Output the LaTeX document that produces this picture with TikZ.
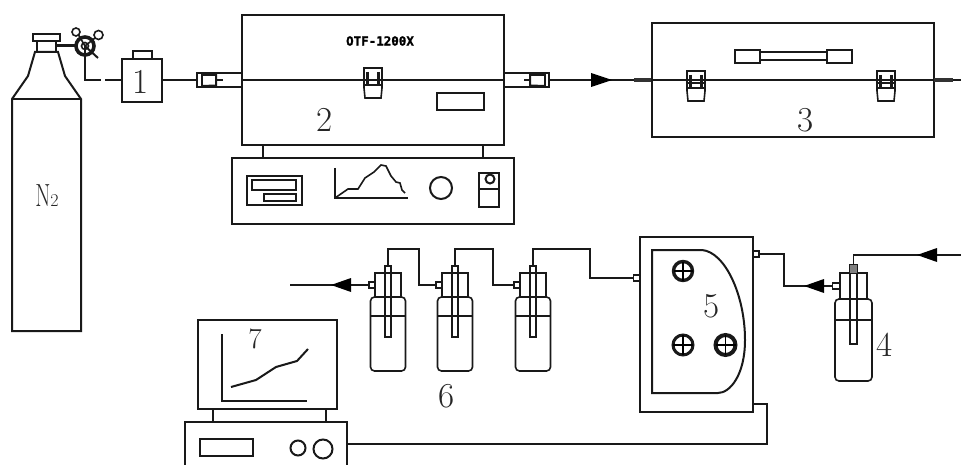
\documentclass[tikz,border=0pt]{standalone}
\usepackage{fontspec}
\newfontfamily\otffont[FakeBold=1.6]{DejaVu Sans Mono Bold}
\usetikzlibrary{arrows.meta}
\tikzset{
 ln/.style={line width=2pt,black!90,line join=miter},
 thn/.style={line width=1.6pt,black!90},
 lbl/.style={inner sep=0pt,font=\fontsize{35}{35}\selectfont,text=black!85},
}
\newcommand{\clasp}[2]{%
 \begin{scope}[shift={(#1,#2)}]
  \draw[thn] (0,0) rectangle (18,12);
  \draw[thn] (0,12) -- (0,20) -- (1,30) -- (17,30) -- (18,20) -- (18,12);
  \draw[line width=2.6pt,black!90] (3.5,4) -- (3.5,16) (14.5,4) -- (14.5,16);
  \draw[thn] (0,17) -- (18,17);
 \end{scope}}
\newcommand{\bottle}[1]{%
 \begin{scope}[shift={(#1,0)}]
  \draw[thn,rounded corners=4pt] (-17.5,297) rectangle (17.5,371);
  \draw[thn] (-13,297) -- (-13,273) -- (13,273) -- (13,297);
  \draw[thn] (-17.5,316) -- (17.5,316);
  \draw[thn] (-3,266) rectangle (3,337);
  \draw[thn,fill=white] (-19,282) rectangle (-13,288);
 \end{scope}}
\newcommand{\knob}[4]{%
 \draw[line width=#4pt,black!90] (#1,#2) circle (#3);
 \draw[line width=1.2pt] (#1-#3,#2) -- (#1+#3,#2) (#1,#2-#3) -- (#1,#2+#3);}
\begin{document}
\begin{tikzpicture}[x=1pt,y=-1pt]
\useasboundingbox (0,0) rectangle (961,465);
% cylinder
\draw[ln] (12,331) -- (12,99) -- (28,76) -- (35,52) -- (58,52) -- (65,76) -- (81,99) -- (81,331) -- cycle;
\draw[ln] (12,99) -- (81,99);
\draw[ln] (33,34) rectangle (60,41);
\draw[ln] (37,41) -- (37,52) (56,41) -- (56,52);
\node[inner sep=0pt,text=black!85,anchor=base] (gas) at (47,207) {\scalebox{0.68}[1]{\fontsize{32}{32}\selectfont N}\fontsize{18}{18}\selectfont 2};
% regulator
\coordinate (reg) at (85,46);
\draw[line width=3pt,black!90] (57,46) -- (76,46);
\draw[line width=3.6pt,black!90] (reg) circle (9);
\draw[thn] (reg) circle (3.5);
\draw[thn] (76,32) circle (4);
\draw[thn] (98.5,35) circle (4.5);
\draw[thn] (78,34) -- (reg) -- (95,38);
\draw[ln] (reg) -- (98,58);
\draw[ln] (reg) -- (85,80) -- (101,80);
% box 1
\node[draw,line width=2pt,black!90,minimum width=40pt,minimum height=43pt,inner sep=0pt] (one) at (142,80.5) {};
\node[lbl] at (141,82) {1};
\draw[ln] (105,80) -- (one.west |- 0,80);
\draw[ln] (133,59) -- (133,51) -- (152,51) -- (152,59);
\draw[ln] (162,80) -- (197,80);
% left connector
\draw[ln] (242,73) -- (197,73) -- (197,87) -- (242,87);
\draw[thn] (202,73) -- (202,87);
\draw[ln] (202,75) -- (216,75) -- (216,85.5) -- (202,86);
\draw[thn] (216,80) -- (223,80);
% furnace
\draw[ln] (242,15) rectangle (504,145);
\draw[ln] (242,80) -- (504,80);
\clasp{364}{68}
\node[inner sep=0pt,font=\otffont\fontsize{12.5}{12.5}\selectfont] (model) at (380,41) {OTF-1200X};
\draw[ln] (437,93) rectangle (484,110);
\node[lbl] at (325,120) {2};
\draw[ln] (263,145) -- (263,158) (483,145) -- (483,158);
\draw[ln] (232,158) rectangle (514,224);
\draw[ln] (247,176) rectangle (302,205);
\draw[ln] (252,180) rectangle (296,190);
\draw[ln] (264,194) rectangle (296,201);
\draw[thn] (335,168) -- (335,198) -- (408,198);
\draw[thn] (335,198) -- (348,189) -- (358,189) -- (365,178) -- (374,172) -- (381,165) -- (386,166) -- (391,176) -- (396,182) -- (400,183) -- (402,190) -- (405,193);
\draw[ln] (441,188) circle (11);
\draw[ln] (479,173) rectangle (499,207);
\draw[ln] (479,189) -- (499,189);
\draw[ln] (490,179) circle (4.5);
% right connector
\draw[ln] (504,73) -- (549,73) -- (549,87) -- (504,87);
\draw[thn] (545,73) -- (545,87);
\draw[ln] (545,75) -- (530,75) -- (530,85.5) -- (545,86);
\draw[thn] (530,80) -- (524,80);
\draw[ln] (549,80) -- (652,80);
\fill[black] (591,73) -- (612,80) -- (591,87) -- cycle;
\draw[line width=3.6pt,black!80] (634,80) -- (652,80);
% box 3
\draw[ln] (652,23) rectangle (934,137);
\draw[ln] (652,80) -- (961,80);
\draw[line width=3.6pt,black!80] (934,80) -- (953,80);
\clasp{687}{71}
\clasp{877}{71}
\draw[ln] (735,50) rectangle (760,63);
\draw[ln] (827,50) rectangle (852,63);
\draw[ln] (760,52.5) rectangle (827,60);
\node[lbl] at (806,120) {3};
% bottles
\bottle{388}
\bottle{455}
\bottle{533}
\draw[thn] (388,266) -- (388,249) -- (419,249) -- (419,285) -- (436,285);
\draw[thn] (455,266) -- (455,249) -- (493,249) -- (493,285) -- (514,285);
\draw[thn] (533,266) -- (533,249) -- (590,249) -- (590,278) -- (633,278);
\draw[thn] (290,285) -- (369,285);
\fill[black] (351,278) -- (331,285) -- (351,292) -- cycle;
\node[lbl] at (447,396) {6};
% box 5
\draw[ln] (640,237) rectangle (753,412);
\draw[thn,fill=white] (633.5,275) rectangle (640,281);
\draw[thn,fill=white] (753,251) rectangle (759,257);
\draw[ln] (652,250) -- (702,250) .. controls (725,252) and (745,295) .. (745,340) .. controls (745,375) and (730,393) .. (718,393) -- (652,393) -- cycle;
\knob{683}{271}{9.5}{3.4}
\knob{683}{345}{10}{3}
\knob{725.5}{345}{10}{4}
\node[lbl] at (712,306) {5};
\draw[thn] (759,254) -- (784,254) -- (784,286) -- (832,286);
\fill[black] (824,279) -- (804,286) -- (824,293) -- cycle;
% bottle 4
\begin{scope}[shift={(853.5,0)}]
 \draw[thn,rounded corners=4pt] (-18.5,299) rectangle (18.5,381);
 \draw[thn] (-13.5,299) -- (-13.5,273) -- (13.5,273) -- (13.5,299);
 \draw[thn] (-18.5,320) -- (18.5,320);
 \draw[thn] (-3.5,265) rectangle (3.5,344);
 \fill[black!50] (-3.5,265) rectangle (3.5,273);
 \draw[thn,fill=white] (-21,283) rectangle (-13.5,289);
\end{scope}
\draw[thn] (853.5,265) -- (853.5,255) -- (961,255);
\fill[black] (937,248) -- (917,255) -- (937,262) -- cycle;
\node[lbl] at (885,345) {4};
% monitor
\draw[ln] (198,320) rectangle (337,409);
\draw[ln] (213,409) -- (213,422) (326,409) -- (326,422);
\draw[ln] (185,465) -- (185,422) -- (347,422) -- (347,465);
\draw[ln] (200,439) rectangle (253,456);
\draw[ln] (298,448) circle (7.5);
\draw[ln] (323,449) circle (9.5);
\draw[ln] (222,334) -- (222,401) -- (307,401);
\draw[ln] (231,387) -- (256,380) -- (276,367) -- (297,361) -- (308,349);
\node[lbl,font=\fontsize{29}{29}\selectfont] at (255,339) {7};
\draw[thn] (347,444) -- (767,444) -- (767,404) -- (753,404);
\end{tikzpicture}
\end{document}
